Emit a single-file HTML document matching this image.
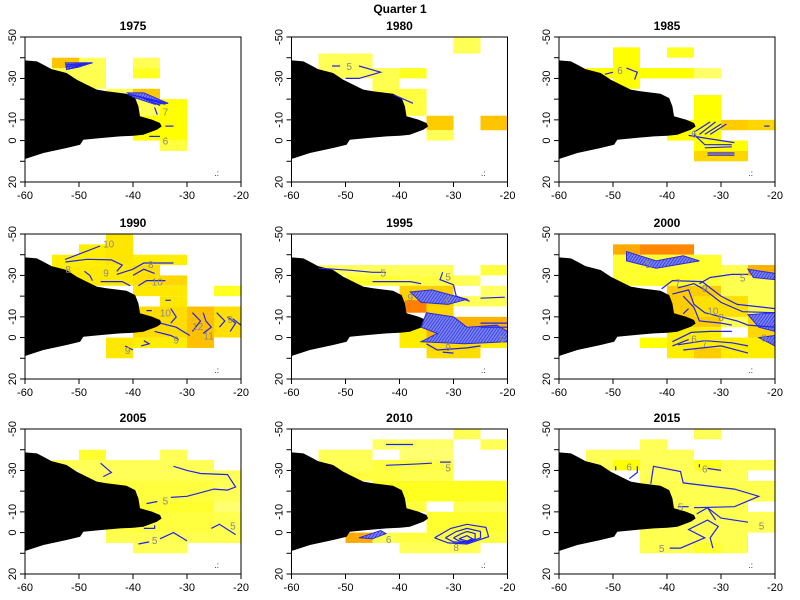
<!DOCTYPE html>
<html><head><meta charset="utf-8"><style>
body{margin:0;background:#fff;}
svg{display:block;font-family:"Liberation Sans",sans-serif;}
</style></head><body>
<svg id="chart" width="800" height="600" viewBox="0 0 800 600">
<defs>
<pattern id="hatch" width="2.5" height="2.5" patternUnits="userSpaceOnUse" patternTransform="rotate(35)">
<rect width="2.5" height="2.5" fill="#7a84f0"/><line x1="0" y1="0" x2="0" y2="2.5" stroke="#2828e0" stroke-width="1.4"/>
</pattern>
</defs>
<text x="400" y="13" text-anchor="middle" font-size="12" font-weight="bold">Quarter 1</text>
</svg>
<script>
const years = ["1975","1980","1985","1990","1995","2000","2005","2010","2015"];
const xTicks = [-60,-50,-40,-30,-20];
const yTicks = [-50,-40,-30,-20,-10,0,10,20];
const yTickLabels = ["-50","","-30","","-10","0","","20"];
const coast = [[-60,-38.7],[-57.8,-38.2],[-56.6,-36.6],[-55.1,-34.5],[-52.3,-32.6],[-50.4,-29.4],[-48.6,-27],[-46.7,-24.6],[-44.9,-23.8],[-41.2,-22.6],[-39.6,-20.5],[-39,-16.5],[-38.7,-11.7],[-36.5,-10.1],[-35,-8.5],[-34.7,-6.8],[-35.6,-5.2],[-38.1,-2.8],[-39.9,-2.3],[-42.4,-2],[-46.1,-1.2],[-49.2,-0.4],[-49.8,2],[-52.3,3.6],[-56.6,6],[-60,8.9]];
const cells1975 = [[-55,-40,-50,-35,'#ffc400'],[-50,-40,-45,-35,'#ffff55'],[-55,-35,-45,-25,'#ffff50'],[-40,-40,-35,-35,'#ffff55'],[-40,-35,-35,-30,'#ffff20'],[-45,-25,-40,-23,'#ffff55'],[-40,-25,-35,-20,'#ffc800'],[-40,-20,-35,-12,'#ffff55'],[-40,-12,-35,0,'#ffff00'],[-35,-20,-30,0,'#ffff00'],[-35,0,-30,5,'#ffff40']];
const cells1980 = [[-55,-42,-45,-35,'#ffff55'],[-55,-35,-45,-30,'#ffff55'],[-45,-35,-40,-25,'#ffff50'],[-40,-35,-35,-30,'#ffff20'],[-45,-25,-35,-20,'#ffff40'],[-40,-20,-35,-12,'#ffff40'],[-35,-12,-30,-5,'#ffcc00'],[-35,-5,-30,0,'#ffff55'],[-30,-50,-25,-42,'#ffff55'],[-25,-12,-20,-5,'#ffc400']];
const cells1985 = [[-50,-45,-45,-30,'#ffff00'],[-45,-35,-35,-30,'#ffff00'],[-35,-35,-30,-30,'#ffff66'],[-55,-35,-50,-30,'#ffff00'],[-50,-30,-45,-25,'#ffff00'],[-40,-45,-35,-40,'#ffff20'],[-35,-22,-30,-10,'#ffff00'],[-40,-10,-30,0,'#ffff00'],[-30,-10,-25,-5,'#ffcc00'],[-25,-10,-20,-5,'#ffd700'],[-35,0,-25,5,'#ffff00'],[-35,5,-25,10,'#ffd700']];
const cells1990 = [[-45,-50,-40,-35,'#ffe600'],[-50,-45,-45,-35,'#ffee00'],[-55,-40,-50,-35,'#ffee00'],[-55,-35,-40,-25,'#ffea00'],[-40,-40,-30,-35,'#ffee00'],[-40,-35,-35,-25,'#ffe000'],[-35,-30,-30,-25,'#ffd700'],[-40,-25,-30,-20,'#ffe800'],[-35,-20,-30,-15,'#ffe800'],[-40,-15,-30,0,'#ffdd00'],[-30,-15,-25,-10,'#ffc000'],[-30,-10,-25,5,'#ffc000'],[-25,-15,-20,0,'#ffe000'],[-25,-25,-20,-20,'#ffff20'],[-40,0,-30,5,'#ffee00'],[-45,0,-40,10,'#ffe800']];
const cells1995 = [[-55,-35,-30,-30,'#ffff55'],[-50,-30,-40,-25,'#ffff30'],[-40,-30,-30,-25,'#ffff40'],[-25,-35,-20,-30,'#ffff40'],[-30,-30,-25,-25,'#ffff55'],[-25,-25,-20,-20,'#ffff66'],[-30,-20,-20,-15,'#ffff55'],[-40,-25,-30,-15,'#ffd000'],[-35,-15,-30,-10,'#ffd700'],[-39,-18,-35,-12,'#ff8000'],[-35,-10,-20,0,'#ffb300'],[-40,-5,-35,5,'#ffee00'],[-35,0,-25,10,'#ffdd00'],[-25,0,-20,5,'#ffee00']];
const cells2000 = [[-50,-45,-45,-40,'#ffaa00'],[-45,-45,-35,-40,'#ff8800'],[-50,-40,-30,-25,'#ffff30'],[-45,-30,-35,-25,'#ffff20'],[-30,-35,-20,-5,'#ffff50'],[-25,-35,-20,-30,'#ffb000'],[-40,-25,-30,-5,'#ffcc00'],[-35,-20,-25,-10,'#ffe000'],[-25,-10,-20,0,'#ffd700'],[-45,0,-40,5,'#ffff00'],[-40,-5,-30,0,'#ffee00'],[-40,0,-20,10,'#ffee00'],[-35,5,-30,10,'#ffcc00']];
const cells2005 = [[-50,-40,-45,-35,'#ffff30'],[-55,-35,-25,-30,'#ffff55'],[-35,-40,-30,-35,'#ffff55'],[-50,-30,-20,-15,'#ffff55'],[-25,-30,-20,-25,'#ffff55'],[-45,-25,-25,0,'#ffff40'],[-40,-15,-25,-10,'#ffff30'],[-25,-15,-20,-10,'#ffff70'],[-25,-10,-20,5,'#ffff50'],[-45,0,-20,5,'#ffff50'],[-40,5,-30,10,'#ffff55']];
const cells2010 = [[-30,-50,-25,-45,'#ffff55'],[-45,-45,-30,-40,'#ffff66'],[-25,-45,-20,-40,'#ffff55'],[-55,-40,-45,-30,'#ffff55'],[-40,-40,-30,-35,'#ffff70'],[-45,-35,-30,-30,'#ffff40'],[-55,-30,-40,-25,'#ffff40'],[-40,-30,-30,-25,'#ffff50'],[-45,-25,-20,-15,'#ffff20'],[-40,-15,-35,-10,'#ffff40'],[-30,-15,-25,-10,'#ffff50'],[-25,-15,-20,-10,'#ffff55'],[-35,-10,-20,0,'#ffff30'],[-40,0,-20,5,'#ffff40'],[-50,0,-45,5,'#ffaa00'],[-45,0,-40,5,'#ffff50'],[-40,5,-25,10,'#ffff55']];
const cells2015 = [[-35,-50,-30,-45,'#ffff55'],[-45,-45,-40,-40,'#ffff55'],[-55,-40,-35,-35,'#ffff55'],[-55,-35,-50,-30,'#ffff55'],[-50,-35,-45,-30,'#ffff00'],[-45,-35,-25,-25,'#ffff55'],[-35,-35,-30,-30,'#ffff20'],[-25,-35,-20,-30,'#ffff55'],[-45,-25,-20,-15,'#ffff50'],[-40,-15,-25,-5,'#ffff50'],[-25,-10,-20,0,'#ffff55'],[-45,-5,-25,0,'#ffff50'],[-45,0,-25,10,'#ffff50'],[-35,5,-30,10,'#ffff30']];
const lines1975 = [[[-52.5,-36.5],[-47.5,-37.5]],[[-52.5,-35.5],[-48.5,-37]],[[-52,-34.5],[-49.5,-36.5]],[[-41,-22.5],[-33.5,-18]],[[-40,-22],[-34,-17.5]],[[-39,-21.5],[-35,-17]],[[-36,-16],[-35.5,-12.5]],[[-34,-7],[-32.5,-7]],[[-37,-2],[-35,-2]]];
const lines1980 = [[[-52.5,-36],[-51,-36]],[[-47.5,-36],[-43.5,-33],[-47.5,-30],[-50,-30]],[[-41,-22],[-37.5,-18]]];
const lines1985 = [[[-51.5,-32],[-50,-33]],[[-47.5,-35],[-45.5,-33],[-46,-29.5]],[[-35,-4],[-32,-9]],[[-34,-3],[-31,-9]],[[-33,-3],[-30,-8]],[[-32,-3],[-29,-8]],[[-36,-2.5],[-32.5,-1],[-27.5,1]],[[-35,-3],[-33,2],[-28,2]],[[-33,3.5],[-28,3]],[[-32.5,6],[-27.5,6]],[[-32.5,7],[-27.5,7]],[[-22,-7],[-21,-7]]];
const lines1990 = [[[-52.6,-37.7],[-46.1,-44.2]],[[-52.5,-36.5],[-48.5,-37.8],[-44,-37.5],[-42,-35],[-43,-32]],[[-49,-32],[-48,-30],[-47.5,-27.5]],[[-46,-27],[-42,-27],[-40.5,-25]],[[-43,-30.5],[-40,-33],[-38,-36],[-32.5,-36]],[[-40,-30],[-38,-33],[-36,-31]],[[-39,-25],[-37.5,-27.5],[-34,-27.5]],[[-33,-18],[-34,-18]],[[-37.5,-13],[-36.5,-13]],[[-35,-7],[-32,-5],[-29.5,-1]],[[-33,-14],[-32,-10],[-33,-7]],[[-29,-12],[-27.5,-8],[-29,-3]],[[-27,-12],[-26.5,-8],[-25.5,-5],[-27,-2]],[[-24.5,-12],[-23,-8],[-24,-5]],[[-22.5,-10],[-21,-7],[-22,-3]],[[-21.5,-9],[-20,-6]],[[-36,-3],[-33,-1],[-31.5,1]],[[-38,1.5],[-37,3],[-38.5,4]],[[-41.5,4],[-40,6]]];
const lines1995 = [[[-55,-33.5],[-49,-32.5],[-45,-31.5],[-42.5,-31.5]],[[-45,-27],[-38,-27],[-36,-26]],[[-32,-31.5],[-32.5,-28],[-30,-25.5],[-29.5,-20],[-27,-17.5]],[[-25,-19],[-20.5,-19.5]],[[-35,3],[-33,6],[-27.5,5],[-25,4]],[[-32,7],[-30,7.5]],[[-25,-7],[-20,-7]],[[-25,-5],[-20,-5]]];
const lines2000 = [[[-41,-23.5],[-39,-27.5],[-33.5,-27],[-32,-24],[-30,-20],[-27,-16],[-20,-14]],[[-38,-24],[-35,-26],[-33,-23],[-30,-17],[-26,-12.5],[-20,-12]],[[-39,-21],[-36,-23],[-35,-16],[-33,-12],[-30,-10],[-27,-8],[-25,-6],[-20,-5]],[[-37,-20],[-35,-14.5],[-34,-8],[-30,-7],[-28,-6]],[[-34,-26],[-32,-29],[-28,-30.5],[-25,-30.5]],[[-39,2],[-35.5,-2.5],[-32,-3],[-28,-3]],[[-38,3.5],[-33,1.5],[-28,2.5],[-25,4]],[[-37,6],[-30,4],[-25,7.5]],[[-39,4],[-36,1]],[[-37,-11.5],[-36,-14]]];
const lines2005 = [[[-46,-33.5],[-44,-29],[-45.5,-27]],[[-32.5,-32],[-30,-30],[-27.5,-28.5],[-22.5,-28],[-21,-22],[-22.5,-20.5],[-25,-21],[-30,-17.5],[-33,-17]],[[-37.5,-14],[-35.5,-15]],[[-38,-2],[-36,-2],[-36,-3.5]],[[-39,5.5],[-37,4.5]],[[-35,3],[-32.5,0],[-30,4]],[[-25.5,-2],[-24,-4],[-21,1]]];
const lines2010 = [[[-42.5,-42.5],[-37.5,-42.5]],[[-42.5,-32.5],[-37.5,-33],[-34,-33.5]],[[-32.5,-34],[-30.5,-34]],[[-33.5,2.5],[-30.5,-2],[-27.5,-4],[-24,-2.5],[-23.5,2],[-27.5,5.5],[-31,5],[-33.5,2.5]],[[-31.5,2.5],[-29.5,-0.5],[-27.5,-2],[-25,-0.5],[-25,2.5],[-27.5,5],[-30,4.5],[-31.5,2.5]],[[-30,2.5],[-28.5,0.5],[-27.5,-0.5],[-26,0.5],[-26,3],[-27.5,4.5],[-29,4],[-30,2.5]],[[-29,3],[-27.5,1.5],[-26.5,3],[-27.5,4],[-29,3]]];
const lines2015 = [[[-49.5,-32],[-49.5,-30]],[[-45.5,-32],[-45.5,-29],[-47,-26]],[[-43,-23.5],[-42.5,-32],[-37.5,-29.5],[-37,-24],[-27.5,-21],[-23,-17.5],[-27.5,-12.5],[-35,-12]],[[-34.5,-9],[-32.5,-12],[-30,-7],[-25,-5]],[[-32.5,-12],[-31,-6]],[[-34,-31.5],[-34,-33]],[[-32.5,-31],[-30,-30]],[[-39.5,7.5],[-37.5,7.5],[-33,2.5],[-36,-1.5],[-32.5,-6],[-30.5,-3],[-32,2.5],[-31.5,7.5]],[[-38,-12.5],[-36,-12.5]]];
const hatch1975 = [[[-52.5,-37.5],[-47.5,-37.6],[-50,-35.5],[-52.3,-34.3]],[[-41,-23],[-38,-23],[-33.5,-18],[-36,-17.5],[-40,-21]]];
const hatch1985 = [];
const hatch1990 = [];
const hatch1995 = [[[-38,-22],[-34,-23],[-27.5,-18.5],[-31,-16],[-36,-17]],[[-35,-12],[-30,-10],[-27.5,-5],[-22,-6],[-20,-3],[-20,2],[-28,3],[-36,2],[-33,-2],[-36,-5]]];
const hatch2000 = [[[-47.5,-41.5],[-42,-37],[-37,-39.5],[-34,-37],[-42,-33.5],[-47.5,-37]],[[-25,-33],[-20,-31],[-20,-28],[-24,-29]],[[-25,-11],[-20,-12],[-20,-3],[-23,-5]],[[-23,0],[-20,-1],[-20,4]]];
const hatch2010 = [[[-47.5,2.5],[-43.5,-1],[-42.5,0.5],[-45,3]]];
const hatchNone = [];
const labels1975 = [[-34,-14,"7"],[-34,0,"6"]];
const labels1980 = [[-49.3,-36,"5"]];
const labels1985 = [[-48.7,-34,"6"],[-35,-3.5,"6"]];
const labels1990 = [[-44.5,-45.5,"10"],[-52,-33,"8"],[-45,-31.5,"9"],[-36.7,-35.5,"8"],[-35.5,-27,"10"],[-34,-12,"10"],[-32,1,"9"],[-41,6,"9"],[-28,-5.5,"12"],[-26,-1,"11"],[-22,-9,"9"]];
const labels1995 = [[-43,-31.5,"5"],[-31,-29.5,"5"],[-31,-18.5,"6"],[-38,-19.5,"9"],[-31,4.5,"9"],[-21,0.5,"9"]];
const labels2000 = [[-38,-26.5,"7"],[-31.5,-13,"10"],[-33,-24,"9"],[-30,-10,"8"],[-35,0.5,"6"],[-33,2.5,"7"],[-22,0,"8"],[-26,-29,"5"],[-43.5,-35.5,"5"]];
const labels2005 = [[-34,-15.5,"5"],[-36,3.5,"5"],[-21.5,-3.5,"5"]];
const labels2010 = [[-31,-31.5,"5"],[-42,3,"6"],[-29.5,7,"8"]];
const labels2015 = [[-47,-32,"6"],[-33,-31,"6"],[-37.5,-12.5,"5"],[-22.5,-3.5,"5"],[-41,7.5,"5"]];

const allCells=[cells1975,cells1980,cells1985,cells1990,cells1995,cells2000,cells2005,cells2010,cells2015];
const allLines=[lines1975,lines1980,lines1985,lines1990,lines1995,lines2000,lines2005,lines2010,lines2015];
const allHatch=[hatch1975,hatchNone,hatch1985,hatch1990,hatch1995,hatch2000,hatchNone,hatch2010,hatchNone];
const allLabels=[labels1975,labels1980,labels1985,labels1990,labels1995,labels2000,labels2005,labels2010,labels2015];

const NS="http://www.w3.org/2000/svg";
const svg=document.getElementById('chart');
const colLeft=[25,291.5,559], rowTop=[37,234,429], W=216, H=145;
function mk(tag,attrs,parent){const e=document.createElementNS(NS,tag);for(const k in attrs)e.setAttribute(k,attrs[k]);parent.appendChild(e);return e;}
function ptsStr(arr,sx,sy){return arr.map(p=>sx(p[0]).toFixed(1)+','+sy(p[1]).toFixed(1)).join(' ');}

years.forEach((yr,i)=>{
  const L=colLeft[i%3], T=rowTop[Math.floor(i/3)];
  const sx=v=>L+(v+60)/40*W, sy=v=>T+(v+50)/70*H;
  const g=mk('g',{},svg);
  
  
  const cp=mk('clipPath',{id:'cp'+i},g);
  mk('rect',{x:L,y:T,width:W,height:H},cp);
  const inner=mk('g',{'clip-path':'url(#cp'+i+')'},g);
  allCells[i].forEach(c=>{
    const r=mk('rect',{x:sx(c[0]),y:sy(c[1]),width:sx(c[2])-sx(c[0]),height:sy(c[3])-sy(c[1]),fill:c[4]},inner);
    
    
  });
  const land=mk('polygon',{points:ptsStr(coast,sx,sy)+' '+sx(-61)+','+sy(8.9)+' '+sx(-61)+','+sy(-38.7),fill:'#000'},inner);
  
  
  allHatch[i].forEach(h=>{
    const p=mk('polygon',{points:ptsStr(h,sx,sy),fill:'url(#hatch)',stroke:'#2b2bdd','stroke-width':1},inner);
    
    
  });
  allLines[i].forEach(l=>{
    const p=mk('polyline',{points:ptsStr(l,sx,sy),fill:'none',stroke:'#2222ee','stroke-width':1.2},inner);
    
    
  });
  allLabels[i].forEach(lb=>{
    const t=mk('text',{x:sx(lb[0]),y:sy(lb[1])+4,'font-size':10,fill:'#888','text-anchor':'middle'},inner);
    t.textContent=lb[2];
    
    
  });
  const isl=mk('text',{x:sx(-24.5),y:sy(17),'font-size':8,fill:'#000','text-anchor':'middle'},inner);
  isl.textContent='.:';
  
  
  const box=mk('rect',{x:L,y:T,width:W,height:H,fill:'none',stroke:'#000','stroke-width':1},g);
  
  
  const title=mk('text',{x:L+W/2,y:T-7,'font-size':12,'font-weight':'bold','text-anchor':'middle'},g);
  title.textContent=yr;
  
  
  xTicks.forEach(v=>{
    mk('line',{x1:sx(v),x2:sx(v),y1:T+H,y2:T+H+5,stroke:'#000'},g);
    const t=mk('text',{x:sx(v),y:T+H+17,'font-size':11,'text-anchor':'middle'},g);
    t.textContent=String(v);
    
    
  });
  yTicks.forEach((v,k)=>{
    mk('line',{x1:L-5,x2:L,y1:sy(v),y2:sy(v),stroke:'#000'},g);
    if(yTickLabels[k]){
      const t=mk('text',{x:0,y:0,'font-size':11,'text-anchor':'middle',transform:'translate('+(L-9)+','+sy(v)+') rotate(-90)'},g);
      t.textContent=yTickLabels[k];
      
      
    }
  });
});
</script>
</body></html>
